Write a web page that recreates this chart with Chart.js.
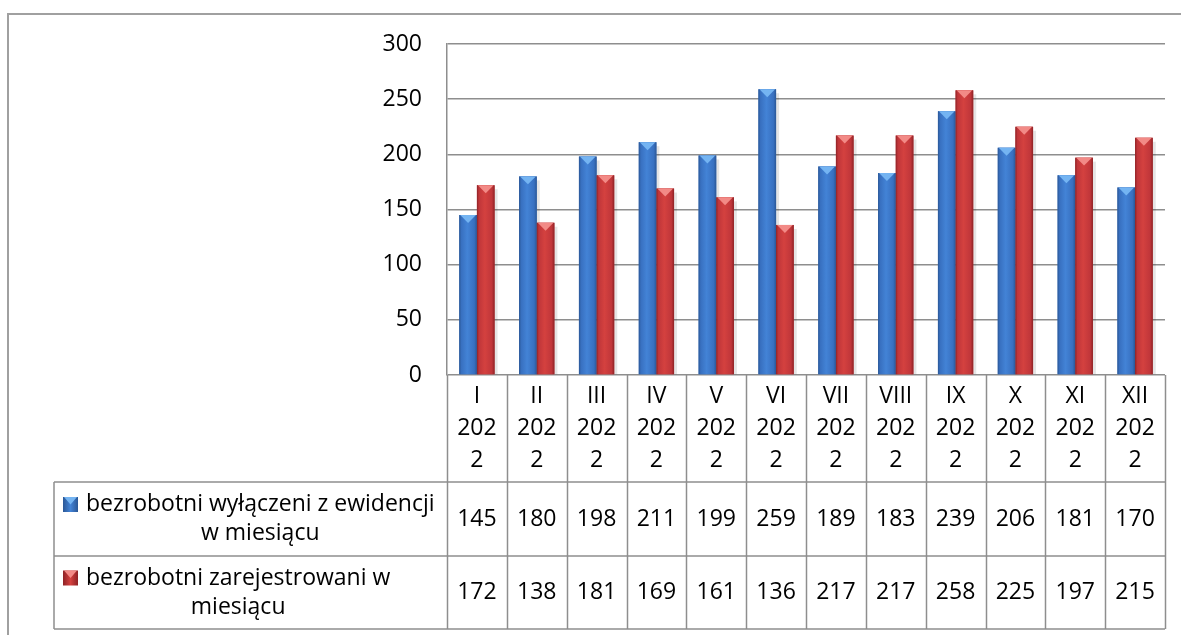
<!DOCTYPE html>
<html>
<head>
<meta charset="utf-8">
<script src="https://cdn.jsdelivr.net/npm/chart.js@4.4.1/dist/chart.umd.min.js"></script>
<style>
  body { margin: 0; background: #fff; }
  #wrap { width: 1181px; height: 635px; }
</style>
</head>
<body>
<div id="wrap"><canvas id="chart" width="1181" height="635"></canvas></div>
<script>
// Chart data
const categories = ['I 2022', 'II 2022', 'III 2022', 'IV 2022', 'V 2022', 'VI 2022',
    'VII 2022', 'VIII 2022', 'IX 2022', 'X 2022', 'XI 2022', 'XII 2022'];
const wylaczeni = [145, 180, 198, 211, 199, 259, 189, 183, 239, 206, 181, 170];
const zarejestrowani = [172, 138, 181, 169, 161, 136, 217, 217, 258, 225, 197, 215];
const seriesNames = [
    ['bezrobotni wyłączeni z ewidencji', 'w miesiącu'],
    ['bezrobotni zarejestrowani w', 'miesiącu']
];
const yTicks = [0, 50, 100, 150, 200, 250, 300];

const FONT = '"Open Sans", "Noto Sans", sans-serif';
const FONT_SIZE = 23;
const GRID = '#8e8e8e';

// Colours for the bevelled bars
const palettes = [
    { edge: '#2a5796', mid: '#4383d6', top: '#74b4f2', base: '#3870c0' },
    { edge: '#8e2225', mid: '#d4413f', top: '#f28a86', base: '#c0363a' }
];

// Excel wraps "I 2022" in the narrow column as I / 202 / 2
function headerLines(label) {
    const [m, y] = label.split(' ');
    return [m, y.slice(0, 3), y.slice(3)];
}

// Draw bevelled, shaded bars over the plain ones
const bevelBars = {
    id: 'bevelBars',
    afterDatasetsDraw(chart) {
        const ctx = chart.ctx;
        chart.data.datasets.forEach((ds, di) => {
            const meta = chart.getDatasetMeta(di);
            const p = palettes[di];
            meta.data.forEach(bar => {
                const l = bar.x - bar.width / 2;
                const r = bar.x + bar.width / 2;
                const top = bar.y;
                const h = bar.base - bar.y;
                ctx.save();
                // soft shadow on the right
                ctx.fillStyle = 'rgba(0,0,0,0.10)';
                ctx.fillRect(r, top + 4, 3, h - 4);
                const g = ctx.createLinearGradient(l, 0, r, 0);
                g.addColorStop(0, p.edge);
                g.addColorStop(0.12, p.base);
                g.addColorStop(0.45, p.mid);
                g.addColorStop(0.85, p.base);
                g.addColorStop(1, p.edge);
                ctx.fillStyle = g;
                ctx.fillRect(l, top, r - l, h);
                // top facet
                const fh = Math.min(bar.width * 0.45, h);
                ctx.beginPath();
                ctx.moveTo(l + 1, top);
                ctx.lineTo(r - 1, top);
                ctx.lineTo(bar.x, top + fh);
                ctx.closePath();
                ctx.fillStyle = p.top;
                ctx.fill();
                ctx.restore();
            });
        });
    }
};

// Outer frame and the data table below the plot
const dataTable = {
    id: 'dataTable',
    afterDraw(chart) {
        const ctx = chart.ctx;
        const area = chart.chartArea;
        const x = chart.scales.x;
        const colW = (x.right - x.left) / categories.length;
        const rows = [area.bottom, 482, 556, 629];
        const legendLeft = 54;

        ctx.save();
        // outer chart border
        ctx.strokeStyle = '#a0a0a0';
        ctx.lineWidth = 2;
        ctx.beginPath();
        ctx.moveTo(8, 635);
        ctx.lineTo(8, 14);
        ctx.lineTo(1181, 14);
        ctx.stroke();

        // table grid
        ctx.strokeStyle = GRID;
        ctx.lineWidth = 1.5;
        ctx.beginPath();
        for (let i = 0; i <= categories.length; i++) {
            const cx = Math.round(x.left + i * colW) + 0.5;
            ctx.moveTo(cx, rows[0]);
            ctx.lineTo(cx, rows[3]);
        }
        for (let r = 1; r <= 3; r++) {
            ctx.moveTo(legendLeft, rows[r]);
            ctx.lineTo(x.right, rows[r]);
        }
        ctx.moveTo(legendLeft, rows[1]);
        ctx.lineTo(legendLeft, rows[3]);
        ctx.stroke();

        ctx.fillStyle = '#000';
        ctx.font = FONT_SIZE + 'px ' + FONT;
        ctx.textAlign = 'center';
        ctx.textBaseline = 'middle';

        // header cells
        categories.forEach((c, i) => {
            const cx = x.getPixelForValue(i);
            headerLines(c).forEach((line, li) => {
                ctx.fillText(line, cx, 396 + li * 32);
            });
        });

        // value rows
        const values = [wylaczeni, zarejestrowani];
        values.forEach((vals, ri) => {
            const cy = (rows[ri + 1] + rows[ri + 2]) / 2;
            ctx.fillStyle = '#000';
            vals.forEach((v, i) => {
                ctx.fillText(String(v), x.getPixelForValue(i), cy);
            });

            // legend cell: key + wrapped name
            const names = seriesNames[ri];
            const y1 = cy - 14.5;
            const keyX = 63, keySize = 15;
            const p = palettes[ri];
            const kg = ctx.createLinearGradient(keyX, 0, keyX + keySize, 0);
            kg.addColorStop(0, p.edge);
            kg.addColorStop(0.5, p.mid);
            kg.addColorStop(1, p.edge);
            ctx.fillStyle = kg;
            ctx.fillRect(keyX, y1 - keySize / 2, keySize, keySize);
            ctx.fillStyle = p.top;
            ctx.beginPath();
            ctx.moveTo(keyX + 1, y1 - keySize / 2);
            ctx.lineTo(keyX + keySize - 1, y1 - keySize / 2);
            ctx.lineTo(keyX + keySize / 2, y1);
            ctx.closePath();
            ctx.fill();

            ctx.fillStyle = '#000';
            const textLeft = 86;
            const w1 = ctx.measureText(names[0]).width;
            const mid = textLeft + w1 / 2;
            names.forEach((line, li) => {
                ctx.fillText(line, mid, y1 + li * 29);
            });
        });
        ctx.restore();
    }
};

const ctx = document.getElementById('chart').getContext('2d');
const chart = new Chart(ctx, {
    type: 'bar',
    data: {
        labels: categories,
        datasets: [
            {
                label: seriesNames[0].join(' '),
                data: wylaczeni,
                backgroundColor: palettes[0].base,
                categoryPercentage: 0.59,
                barPercentage: 1
            },
            {
                label: seriesNames[1].join(' '),
                data: zarejestrowani,
                backgroundColor: palettes[1].base,
                categoryPercentage: 0.59,
                barPercentage: 1
            }
        ]
    },
    options: {
        responsive: false,
        animation: false,
        devicePixelRatio: 1,
        layout: {
            padding: { top: 44, right: 16, left: 0, bottom: 0 }
        },
        plugins: {
            legend: { display: false },
            tooltip: { enabled: false }
        },
        scales: {
            x: {
                grid: { display: false },
                border: { display: false },
                ticks: { display: false },
                afterFit(scale) { scale.height = 635 - 375; }
            },
            y: {
                min: 0,
                max: 300,
                afterBuildTicks(scale) {
                    scale.ticks = yTicks.map(v => ({ value: v }));
                },
                afterFit(scale) {
                    scale.width = 447;
                    scale.paddingTop = 0;
                    scale.paddingBottom = 0;
                },
                grid: {
                    color: GRID,
                    lineWidth: 1.5,
                    drawTicks: false
                },
                border: { display: true, color: GRID, width: 1.5 },
                ticks: {
                    color: '#000',
                    padding: 25,
                    font: { family: FONT, size: FONT_SIZE }
                }
            }
        }
    },
    plugins: [bevelBars, dataTable]
});
</script>
</body>
</html>
